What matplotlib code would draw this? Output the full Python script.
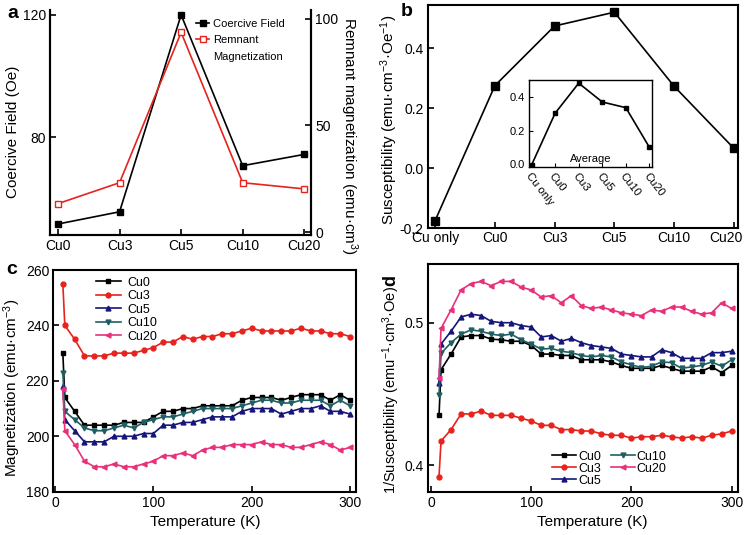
import matplotlib
matplotlib.use("Agg")
import matplotlib.pyplot as plt
import matplotlib.transforms as mtrans
from matplotlib.lines import Line2D
import numpy as np

plt.rcParams['font.family'] = ['Liberation Sans', 'DejaVu Sans']
plt.rcParams['mathtext.fontset'] = 'custom'
plt.rcParams['mathtext.rm'] = 'Liberation Sans'
plt.rcParams['mathtext.it'] = 'Liberation Sans'

# ---------------- data ----------------
samples_a = ["Cu0", "Cu3", "Cu5", "Cu10", "Cu20"]
coercive = [51.5, 55.5, 120.0, 70.6, 74.3]
remnant = [13.3, 23.1, 93.5, 23.1, 20.2]

samples_b = ["Cu only", "Cu0", "Cu3", "Cu5", "Cu10", "Cu20"]
suscept = [-0.175, 0.275, 0.474, 0.520, 0.273, 0.066]
suscept_avg = [-0.006, 0.305, 0.485, 0.372, 0.338, 0.100]

temps = [8, 10, 20, 30, 40, 50, 60, 70, 80, 90, 100, 110, 120, 130, 140, 150,
         160, 170, 180, 190, 200, 210, 220, 230, 240, 250, 260, 270, 280, 290, 300]

cu0_M = [230, 214, 209, 204, 204, 204, 204, 205, 205, 205, 207, 209, 209, 210, 210, 211,
         211, 211, 211, 213, 214, 214, 214, 213, 214, 215, 215, 215, 213, 215, 213]
cu3_M = [255, 240, 235, 229, 229, 229, 230, 230, 230, 231, 232, 234, 234, 236, 235, 236,
         236, 237, 237, 238, 239, 238, 238, 238, 238, 239, 238, 238, 237, 237, 236]
cu5_M = [218, 206, 202, 198, 198, 198, 200, 200, 200, 201, 201, 204, 204, 205, 205, 206,
         207, 207, 207, 209, 210, 210, 210, 208, 209, 210, 210, 211, 209, 209, 208]
cu10_M = [223, 209, 206, 203, 202, 202, 203, 204, 203, 205, 206, 207, 207, 208, 209, 210,
          210, 210, 210, 211, 212, 213, 213, 212, 212, 213, 213, 213, 211, 213, 211]
cu20_M = [217, 202, 197, 191, 189, 189, 190, 189, 189, 190, 191, 193, 193, 194, 193, 195,
          196, 196, 197, 197, 197, 198, 197, 197, 196, 196, 197, 198, 197, 195, 196]

cu0_S = [0.435, 0.467, 0.478, 0.490, 0.491, 0.491, 0.4885, 0.488, 0.487, 0.487, 0.484,
         0.478, 0.478, 0.477, 0.477, 0.474, 0.474, 0.474, 0.4725, 0.470, 0.468, 0.468,
         0.468, 0.470, 0.468, 0.466, 0.466, 0.466, 0.469, 0.465, 0.470]
cu3_S = [0.392, 0.417, 0.425, 0.436, 0.436, 0.438, 0.435, 0.435, 0.435, 0.433, 0.431,
         0.428, 0.428, 0.425, 0.425, 0.424, 0.424, 0.422, 0.421, 0.421, 0.419, 0.420,
         0.420, 0.421, 0.420, 0.419, 0.420, 0.419, 0.421, 0.422, 0.424]
cu5_S = [0.458, 0.485, 0.494, 0.504, 0.506, 0.505, 0.501, 0.500, 0.500, 0.498, 0.497,
         0.490, 0.491, 0.487, 0.489, 0.486, 0.484, 0.483, 0.482, 0.478, 0.477, 0.476,
         0.476, 0.481, 0.479, 0.475, 0.475, 0.475, 0.479, 0.479, 0.480]
cu10_S = [0.449, 0.4785, 0.486, 0.492, 0.495, 0.494, 0.492, 0.491, 0.492, 0.488, 0.485,
          0.4815, 0.482, 0.480, 0.479, 0.477, 0.476, 0.477, 0.476, 0.4725, 0.4705, 0.4685,
          0.4695, 0.4725, 0.472, 0.468, 0.469, 0.470, 0.4725, 0.4695, 0.474]
cu20_S = [0.461, 0.496, 0.509, 0.523, 0.5275, 0.529, 0.526, 0.529, 0.529, 0.525, 0.523,
          0.518, 0.519, 0.514, 0.519, 0.512, 0.510, 0.511, 0.509, 0.507, 0.506, 0.505,
          0.509, 0.508, 0.511, 0.511, 0.508, 0.506, 0.507, 0.514, 0.510]

series_names = ["Cu0", "Cu3", "Cu5", "Cu10", "Cu20"]
series_colors = ["#000000", "#e8221c", "#16167a", "#1f5f63", "#e8317a"]
series_markers = ["s", "o", "^", "v", "<"]

# ---------------- figure ----------------
W, H = 747, 535
fig = plt.figure(figsize=(W / 100, H / 100), dpi=100)


def ax_px(l, t, r, b):
    return fig.add_axes([l / W, 1 - b / H, (r - l) / W, (b - t) / H])


def style(ax, fs=10):
    for s in ax.spines.values():
        s.set_linewidth(1.5)
    ax.tick_params(direction='in', length=4, width=1.2, labelsize=fs, pad=3)


# ---- panel a ----
axa = ax_px(50, 10, 311, 235)
style(axa)
axa.spines['top'].set_visible(False)
xa = np.arange(len(samples_a))
l1, = axa.plot(xa, coercive, '-s', color='black', lw=1.2, ms=5, label='Coercive Field')
axa.set_xticks(xa)
axa.set_xticklabels(samples_a)
axb2 = axa.twinx()
style(axb2)
axb2.spines['top'].set_visible(False)
l2, = axb2.plot(xa, remnant, '-s', color='#e8221c', lw=1.2, ms=5, mfc='white',
                mec='#e8221c', mew=1.0, label='Remnant')
blank = Line2D([0], [0], color='none', lw=0, label='Magnetization')
axa.legend(handles=[l1, l2, blank], loc='upper left', bbox_to_anchor=(0.56, 0.962),
           frameon=False, fontsize=8, handlelength=1.2, handletextpad=0.3,
           labelspacing=0.6, borderaxespad=0, borderpad=0)
axa.set_xlim(-0.13, 4.11)
axa.set_ylim(47.9, 121.6)
axa.set_yticks([80, 120])
axb2.set_ylim(-1.4, 104)
axb2.set_yticks([0, 50, 100])
fig.text(13 / W, 1 - 132 / H, 'Coercive Field (Oe)', rotation=90, ha='center',
         va='center', fontsize=11)
fig.text(349 / W, 1 - 136 / H, 'Remnant magnetization (emu·cm$^{3}$)', rotation=-90,
         ha='center', va='center', fontsize=11)
fig.text(13 / W, 1 - 13 / H, 'a', ha='center', va='center', fontsize=14, fontweight='bold')

# ---- panel b ----
axb = ax_px(428, 5, 738, 228)
style(axb)
axb.tick_params(axis='x', pad=2)
xb = np.arange(len(samples_b))
axb.plot(xb, suscept, '-s', color='black', lw=1.2, ms=6)
axb.set_xlim(-0.12, 5.07)
axb.set_ylim(-0.2, 0.544)
axb.set_yticks([-0.2, 0.0, 0.2, 0.4])
axb.set_yticklabels(['-0.2', '0.0', '0.2', '0.4'])
axb.set_xticks(xb)
axb.set_xticklabels(samples_b)
last = axb.get_xticklabels()[-1]
last.set_transform(last.get_transform() +
                   mtrans.ScaledTranslation(-8 / 100, 0, fig.dpi_scale_trans))
fig.text(389 / W, 1 - 120 / H, 'Susceptibility (emu·cm$^{-3}$·Oe$^{-1}$)', rotation=90,
         ha='center', va='center', fontsize=11)
fig.text(407 / W, 1 - 12 / H, 'b', ha='center', va='center', fontsize=14, fontweight='bold')

axi = ax_px(529, 80, 652, 167)
style(axi, fs=8)
for s in axi.spines.values():
    s.set_linewidth(1.0)
axi.tick_params(length=3, width=0.8)
axi.plot(xb, suscept_avg, '-s', color='black', lw=1.2, ms=3)
axi.set_xlim(-0.11, 5.11)
axi.set_ylim(-0.018, 0.504)
axi.set_yticks([0.0, 0.2, 0.4])
axi.set_xticks(xb)
axi.set_xticklabels(samples_b, rotation=-52, ha='left', va='top', rotation_mode='anchor')
axi.text(0.5, 0.03, 'Average', transform=axi.transAxes, ha='center', va='bottom', fontsize=8)

# ---- panel c ----
axc = ax_px(53.3, 270, 356, 491.7)
style(axc)
for name, col, mk, ys in zip(series_names, series_colors, series_markers,
                              [cu0_M, cu3_M, cu5_M, cu10_M, cu20_M]):
    axc.plot(temps, ys, '-', marker=mk, color=col, lw=1.2, ms=3.5, label=name)
axc.set_xlim(-1.7, 306)
axc.set_ylim(180, 260)
axc.set_xticks([0, 100, 200, 300])
axc.set_yticks([180, 200, 220, 240, 260])
axc.legend(loc='upper left', bbox_to_anchor=(0.14, 0.97), frameon=False, fontsize=9,
           handlelength=2.0, handletextpad=0.5, labelspacing=0.12, borderaxespad=0,
           borderpad=0)
fig.text(12 / W, 1 - 388 / H, 'Magnetization (emu·cm$^{-3}$)', rotation=90,
         ha='center', va='center', fontsize=11)
fig.text(205 / W, 1 - 522 / H, 'Temperature (K)', ha='center', va='center', fontsize=11)
fig.text(12 / W, 1 - 270 / H, 'c', ha='center', va='center', fontsize=14, fontweight='bold')

# ---- panel d ----
axd = ax_px(428.3, 264.3, 738.3, 492.3)
style(axd)
for name, col, mk, ys in zip(series_names, series_colors, series_markers,
                              [cu0_S, cu3_S, cu5_S, cu10_S, cu20_S]):
    axd.plot(temps, ys, '-', marker=mk, color=col, lw=1.2, ms=3.5, label=name)
axd.set_xlim(-2.7, 306.6)
axd.set_ylim(0.381, 0.541)
axd.set_xticks([0, 100, 200, 300])
axd.set_yticks([0.4, 0.5])
axd.legend(loc='upper left', bbox_to_anchor=(0.40, 0.182), frameon=False, fontsize=9,
           ncol=2, handlelength=1.9, handletextpad=0.15, labelspacing=0.0,
           columnspacing=0.8, borderaxespad=0, borderpad=0)
fig.text(391 / W, 1 - 390 / H, '1/Susceptibility (emu$^{-1}$·cm$^{3}$·Oe)', rotation=90,
         ha='center', va='center', fontsize=10.5)
fig.text(391 / W, 1 - 281 / H, 'd', rotation=90, ha='center', va='center', fontsize=13,
         fontweight='bold')

fig.text(592 / W, 1 - 522 / H, 'Temperature (K)', ha='center', va='center', fontsize=11)

fig.savefig('out.png', dpi=100)
